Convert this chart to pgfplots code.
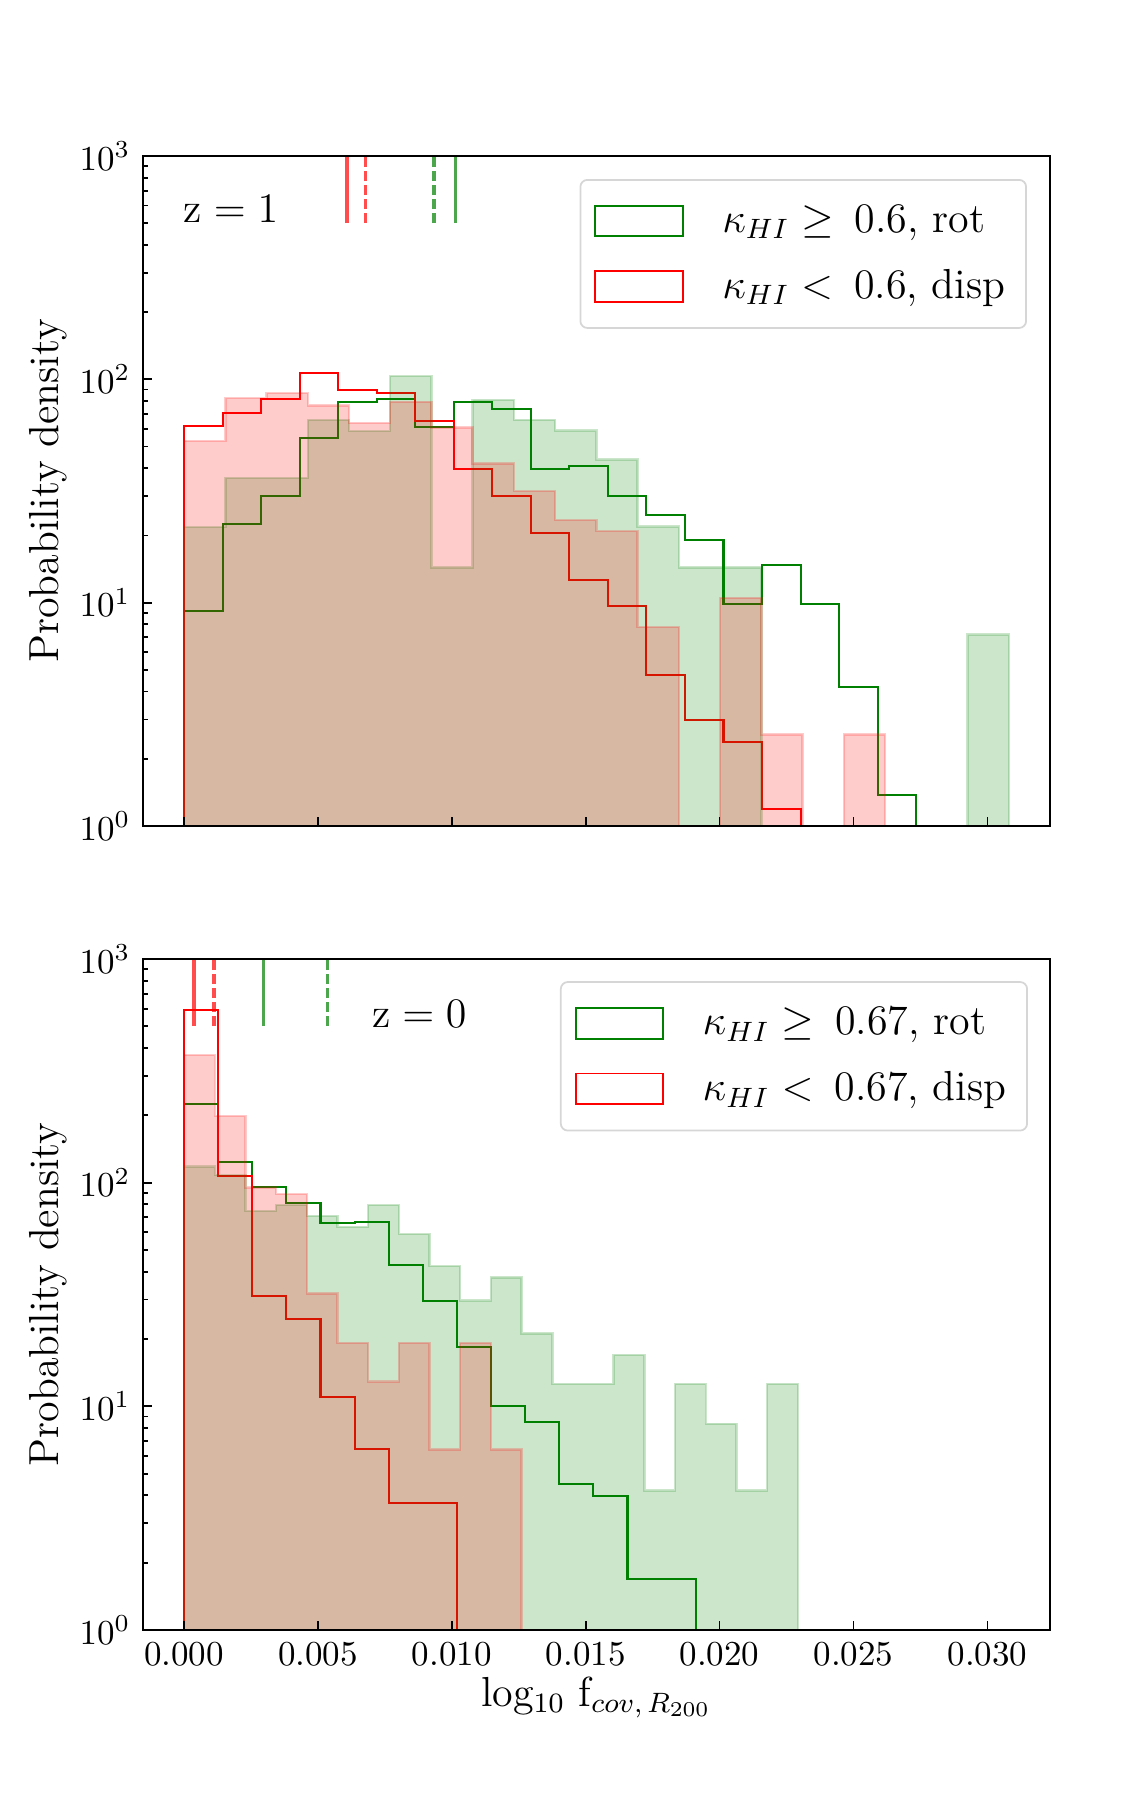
\documentclass[border=0pt]{standalone}
\usepackage{fontspec}
\usepackage{pgfplots}
\pgfplotsset{compat=1.18}
\definecolor{mplgreen}{RGB}{0,128,0}
\definecolor{mplred}{RGB}{255,0,0}
\definecolor{legedge}{RGB}{214,214,214}
\newcommand{\bigf}{\fontsize{12}{14}\selectfont}
\pgfplotsset{legend image code/.code={\draw[#1, sharp corners, line width=0.55pt] (0pt,-4.4pt) rectangle (25pt,4.4pt);}}
\begin{document}
\begin{tikzpicture}
\useasboundingbox (0,0) rectangle (324.56pt,518.26pt);
% ---------------- top panel: z = 1 ----------------
\begin{axis}[scale only axis, width=259.19pt, height=191.4pt,
  at={(40.80pt,282.27pt)}, anchor=south west,
  xmin=-0.00154, xmax=0.03234,
  ymode=log, ymin=1, ymax=1000,
  xtick={0,0.005,0.01,0.015,0.02,0.025,0.03},
  xticklabels={}, scaled x ticks=false,
  ytick={1,10,100,1000},
  minor ytick={2,3,4,5,6,7,8,9,20,30,40,50,60,70,80,90,200,300,400,500,600,700,800,900},
  tick align=inside, xtick pos=left, ytick pos=left,
  major tick length=2.7pt, minor tick length=1.6pt,
  tick style={black, line width=0.5pt},
  axis line style={line width=0.6pt},
  ticklabel style={font=\fontsize{10}{12}\selectfont},
  ylabel={Probability density},
  ylabel style={at={(axis description cs:-0.104,0.5)}, anchor=center, font=\bigf},
  axis on top,
  legend cell align=left,
  legend style={at={(axis description cs:0.9746,0.9657)}, anchor=north east,
    draw=legedge, line width=0.5pt, rounded corners=2pt, fill=white,
    font=\bigf, inner xsep=4pt, inner ysep=5pt, row sep=5pt,
    /tikz/every odd column/.append style={column sep=9pt}}]
\addplot[const plot, draw=mplgreen, line width=0.6pt] coordinates {(0,0.5) (0,9.17) (0.001439,22.5) (0.002878,29.9) (0.004317,54.4) (0.005756,79.4) (0.007195,82) (0.008634,61) (0.010073,79) (0.011512,73.5) (0.012951,39.6) (0.01439,41) (0.015829,29.9) (0.017268,24.8) (0.018707,19.0) (0.020146,9.9) (0.021585,14.7) (0.023024,9.9) (0.024463,4.18) (0.025902,1.38) (0.027341,0.5)};
\addlegendentry{$\kappa_{HI} \geq$\enspace 0.6, rot}
\addplot[const plot, draw=mplred, line width=0.6pt] coordinates {(0,0.5) (0,62) (0.001439,71) (0.002878,82) (0.004317,107) (0.005756,90) (0.007195,87) (0.008634,65) (0.010073,39.7) (0.011512,29.9) (0.012951,20.5) (0.01439,12.6) (0.015829,9.7) (0.017268,4.75) (0.018707,2.98) (0.020146,2.38) (0.021585,1.19) (0.023024,0.5)};
\addlegendentry{$\kappa_{HI} <$\enspace 0.6, disp}
\addplot[const plot, fill=mplgreen, fill opacity=0.2, draw=mplgreen, draw opacity=0.2, line width=0.7pt, forget plot] coordinates {(0,0.5) (0,21.8) (0.00154,36.2) (0.00308,36.2) (0.00462,65.8) (0.00616,58.7) (0.0077,103.5) (0.00924,14.4) (0.01078,81) (0.01232,65.8) (0.01386,58.9) (0.0154,43.7) (0.01694,21.9) (0.01848,14.4) (0.02002,14.4) (0.02156,0.5) (0.02926,7.2) (0.0308,0.5)} -- cycle;
\addplot[const plot, fill=mplred, fill opacity=0.2, draw=mplred, draw opacity=0.2, line width=0.7pt, forget plot] coordinates {(0,0.5) (0,53) (0.00154,82.4) (0.00308,86.7) (0.00462,76.4) (0.00616,63.8) (0.0077,79.4) (0.00924,61) (0.01078,42) (0.01232,31.6) (0.01386,23.4) (0.0154,20.9) (0.01694,7.77) (0.01848,0.5) (0.02002,10.5) (0.02156,2.57) (0.0231,0.5) (0.02464,2.57) (0.02618,0.5)} -- cycle;
\addplot[draw=mplred, draw opacity=0.7, line width=1pt, forget plot] coordinates {(0.00609,501.2) (0.00609,1000)};
\addplot[draw=mplred, draw opacity=0.7, line width=1pt, dash pattern=on 2.8pt off 1.2pt, forget plot] coordinates {(0.00677,501.2) (0.00677,1000)};
\addplot[draw=mplgreen, draw opacity=0.7, line width=1pt, dash pattern=on 2.8pt off 1.2pt, forget plot] coordinates {(0.00934,501.2) (0.00934,1000)};
\addplot[draw=mplgreen, draw opacity=0.7, line width=1pt, forget plot] coordinates {(0.01014,501.2) (0.01014,1000)};
\node[anchor=base west, inner sep=0pt, font=\bigf] at (axis description cs:0.0446,0.9004) {$\mathrm{z} = 1$};
\end{axis}
% ---------------- bottom panel: z = 0 ----------------
\begin{axis}[scale only axis, width=259.19pt, height=191.7pt,
  at={(40.80pt,52.57pt)}, anchor=south west,
  xmin=-0.00154, xmax=0.03234,
  ymode=log, ymin=1, ymax=1000,
  xtick={0,0.005,0.01,0.015,0.02,0.025,0.03},
  xticklabels={0.000,0.005,0.010,0.015,0.020,0.025,0.030}, scaled x ticks=false,
  ytick={1,10,100,1000},
  minor ytick={2,3,4,5,6,7,8,9,20,30,40,50,60,70,80,90,200,300,400,500,600,700,800,900},
  tick align=inside, xtick pos=left, ytick pos=left,
  major tick length=2.7pt, minor tick length=1.6pt,
  tick style={black, line width=0.5pt},
  axis line style={line width=0.6pt},
  ticklabel style={font=\fontsize{10}{12}\selectfont},
  ylabel={Probability density},
  ylabel style={at={(axis description cs:-0.104,0.5)}, anchor=center, font=\bigf},
  xlabel={log$_{10}$ f$_{cov,\, R_{200}}$},
  xlabel style={at={(axis description cs:0.5,-0.1143)}, anchor=base, font=\bigf},
  axis on top,
  legend cell align=left,
  legend style={at={(axis description cs:0.9757,0.967)}, anchor=north east,
    draw=legedge, line width=0.5pt, rounded corners=2pt, fill=white,
    font=\bigf, inner xsep=4pt, inner ysep=5pt, row sep=5pt,
    /tikz/every odd column/.append style={column sep=9pt}}]
\addplot[const plot, draw=mplgreen, line width=0.6pt] coordinates {(0,0.5) (0,224) (0.001274,124) (0.002548,95.3) (0.003822,80.8) (0.005096,65.8) (0.00637,67) (0.007644,43) (0.008918,29.6) (0.010192,18.5) (0.011466,10.0) (0.01274,8.48) (0.014014,4.51) (0.015288,3.96) (0.016562,1.685) (0.017836,1.685) (0.01911,0.5)};
\addlegendentry{$\kappa_{HI} \geq$\enspace 0.67, rot}
\addplot[const plot, draw=mplred, line width=0.6pt] coordinates {(0,0.5) (0,591) (0.001274,107) (0.002548,31.2) (0.003822,24.5) (0.005096,11.0) (0.00637,6.42) (0.007644,3.68) (0.008918,3.68) (0.010192,0.5)};
\addlegendentry{$\kappa_{HI} <$\enspace 0.67, disp}
\addplot[const plot, fill=mplgreen, fill opacity=0.2, draw=mplgreen, draw opacity=0.2, line width=0.7pt, forget plot] coordinates {(0,0.5) (0,118) (0.001146,108) (0.002292,74.9) (0.003438,79.4) (0.004584,71.1) (0.00573,63.5) (0.006876,79.4) (0.008022,58.9) (0.009168,42.4) (0.010314,29.7) (0.01146,37.7) (0.012606,21.2) (0.013752,12.6) (0.014898,12.6) (0.016044,17.0) (0.01719,4.2) (0.018336,12.6) (0.019482,8.36) (0.020628,4.2) (0.021774,12.6) (0.02292,0.5)} -- cycle;
\addplot[const plot, fill=mplred, fill opacity=0.2, draw=mplred, draw opacity=0.2, line width=0.7pt, forget plot] coordinates {(0,0.5) (0,372) (0.001146,199) (0.002292,95.3) (0.003438,88.9) (0.004584,32.0) (0.00573,19.2) (0.006876,12.9) (0.008022,19.2) (0.009168,6.42) (0.010314,19.2) (0.01146,6.42) (0.012606,0.5)} -- cycle;
\addplot[draw=mplred, draw opacity=0.7, line width=1pt, forget plot] coordinates {(0.00037,501.2) (0.00037,1000)};
\addplot[draw=mplred, draw opacity=0.7, line width=1pt, dash pattern=on 2.8pt off 1.2pt, forget plot] coordinates {(0.00111,501.2) (0.00111,1000)};
\addplot[draw=mplgreen, draw opacity=0.7, line width=1pt, forget plot] coordinates {(0.00297,501.2) (0.00297,1000)};
\addplot[draw=mplgreen, draw opacity=0.7, line width=1pt, dash pattern=on 2.8pt off 1.2pt, forget plot] coordinates {(0.00535,501.2) (0.00535,1000)};
\node[anchor=base west, inner sep=0pt, font=\bigf] at (axis description cs:0.2523,0.898) {$\mathrm{z} = 0$};
\end{axis}
\end{tikzpicture}
\end{document}
